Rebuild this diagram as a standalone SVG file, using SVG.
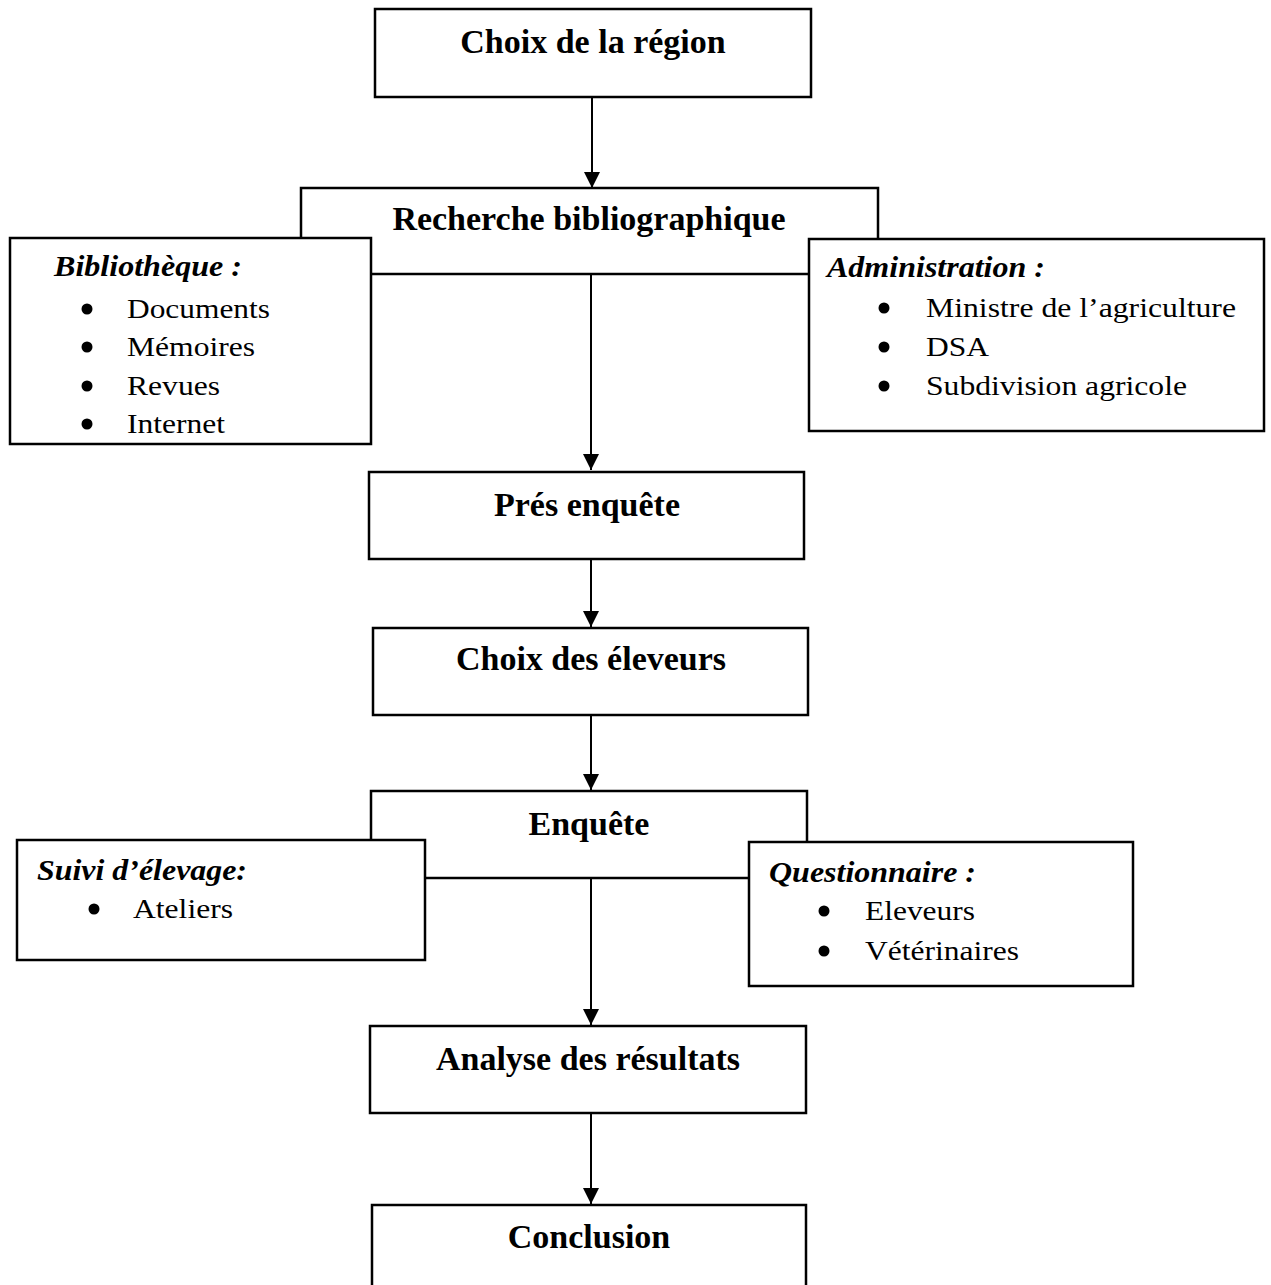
<svg xmlns="http://www.w3.org/2000/svg" width="1271" height="1285" viewBox="0 0 1271 1285">
<style>
.box{fill:#fff;stroke:#000;stroke-width:2.5}
.t{font-family:"Liberation Serif","Times New Roman",serif;font-weight:bold;font-size:34px;text-anchor:middle;fill:#000}
.h{font-family:"Liberation Serif","Times New Roman",serif;font-weight:bold;font-style:italic;font-size:30px;fill:#000}
.i{font-family:"Liberation Serif","Times New Roman",serif;font-size:28px;fill:#000}
.c{stroke:#000;stroke-width:2;fill:none}
</style>
<defs>
<marker id="ah" markerUnits="userSpaceOnUse" markerWidth="16" markerHeight="16" viewBox="0 0 16 16" refX="16" refY="8" orient="auto">
<path d="M0,0 L16,8 L0,16 Z" fill="#000"/>
</marker>
</defs>
<rect width="1271" height="1285" fill="#fff"/>
<g id="connectors">
<line class="c" x1="592" y1="97" x2="592" y2="188" marker-end="url(#ah)"/>
<line class="c" x1="591" y1="274" x2="591" y2="470" marker-end="url(#ah)"/>
<line class="c" x1="591" y1="559" x2="591" y2="627" marker-end="url(#ah)"/>
<line class="c" x1="591" y1="715" x2="591" y2="790" marker-end="url(#ah)"/>
<line class="c" x1="591" y1="878" x2="591" y2="1025" marker-end="url(#ah)"/>
<line class="c" x1="591" y1="1113" x2="591" y2="1204" marker-end="url(#ah)"/>
</g>
<g id="n-choix-region">
<rect class="box" x="375" y="9" width="436" height="88"/>
<text class="t" x="593" y="53">Choix de la région</text>
</g>
<g id="n-recherche">
<rect class="box" x="301" y="188" width="577" height="86"/>
<text class="t" x="589" y="230">Recherche bibliographique</text>
</g>
<g id="n-bibliotheque">
<rect class="box" x="10" y="238" width="361" height="206"/>
<text class="h" x="54" y="276" textLength="188" lengthAdjust="spacingAndGlyphs">Bibliothèque :</text>
<circle cx="87" cy="309" r="5.5"/><text class="i" x="127" y="318" textLength="143" lengthAdjust="spacingAndGlyphs">Documents</text>
<circle cx="87" cy="347" r="5.5"/><text class="i" x="127" y="356" textLength="128" lengthAdjust="spacingAndGlyphs">Mémoires</text>
<circle cx="87" cy="386" r="5.5"/><text class="i" x="127" y="395" textLength="93" lengthAdjust="spacingAndGlyphs">Revues</text>
<circle cx="87" cy="424" r="5.5"/><text class="i" x="127" y="433" textLength="98" lengthAdjust="spacingAndGlyphs">Internet</text>
</g>
<g id="n-administration">
<rect class="box" x="809" y="239" width="455" height="192"/>
<text class="h" x="827" y="277" textLength="218" lengthAdjust="spacingAndGlyphs">Administration :</text>
<circle cx="884" cy="308" r="5.5"/><text class="i" x="926" y="317" textLength="310" lengthAdjust="spacingAndGlyphs">Ministre de l’agriculture</text>
<circle cx="884" cy="347" r="5.5"/><text class="i" x="926" y="356" textLength="63" lengthAdjust="spacingAndGlyphs">DSA</text>
<circle cx="884" cy="386" r="5.5"/><text class="i" x="926" y="395" textLength="261" lengthAdjust="spacingAndGlyphs">Subdivision agricole</text>
</g>
<g id="n-pres-enquete">
<rect class="box" x="369" y="472" width="435" height="87"/>
<text class="t" x="587" y="516">Prés enquête</text>
</g>
<g id="n-choix-eleveurs">
<rect class="box" x="373" y="628" width="435" height="87"/>
<text class="t" x="591" y="670">Choix des éleveurs</text>
</g>
<g id="n-enquete">
<rect class="box" x="371" y="791" width="436" height="87"/>
<text class="t" x="589" y="835">Enquête</text>
</g>
<g id="n-suivi">
<rect class="box" x="17" y="840" width="408" height="120"/>
<text class="h" x="37" y="880" textLength="210" lengthAdjust="spacingAndGlyphs">Suivi d’élevage:</text>
<circle cx="94" cy="909" r="5.5"/><text class="i" x="133" y="918" textLength="100" lengthAdjust="spacingAndGlyphs">Ateliers</text>
</g>
<g id="n-questionnaire">
<rect class="box" x="749" y="842" width="384" height="144"/>
<text class="h" x="769" y="882" textLength="207" lengthAdjust="spacingAndGlyphs">Questionnaire :</text>
<circle cx="824" cy="911" r="5.5"/><text class="i" x="865" y="920" textLength="110" lengthAdjust="spacingAndGlyphs">Eleveurs</text>
<circle cx="824" cy="951" r="5.5"/><text class="i" x="865" y="960" textLength="154" lengthAdjust="spacingAndGlyphs">Vétérinaires</text>
</g>
<g id="n-analyse">
<rect class="box" x="370" y="1026" width="436" height="87"/>
<text class="t" x="588" y="1070">Analyse des résultats</text>
</g>
<g id="n-conclusion">
<rect class="box" x="372" y="1205" width="434" height="100"/>
<text class="t" x="589" y="1248">Conclusion</text>
</g>
</svg>
